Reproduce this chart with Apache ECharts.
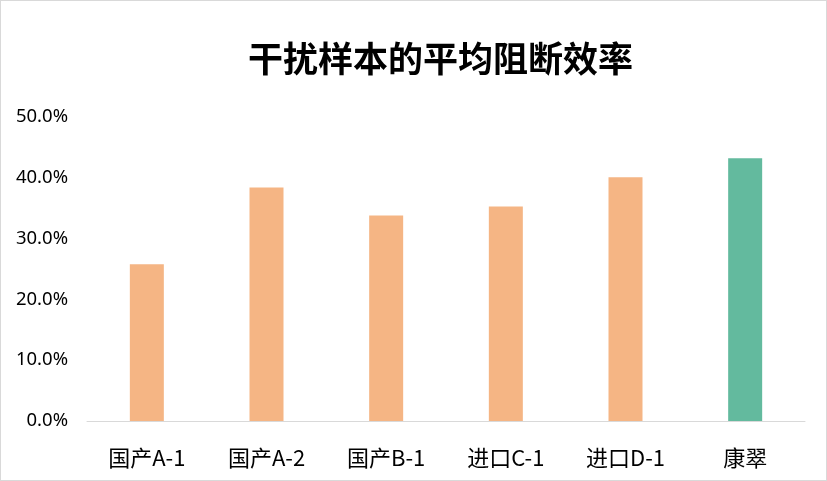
<!DOCTYPE html>
<html>
<head>
<meta charset="utf-8">
<script src="https://cdn.jsdelivr.net/npm/echarts@6/dist/echarts.min.js"></script>
<style>
html,body{margin:0;padding:0;background:#fff;}
#c{width:827px;height:481px;box-sizing:border-box;border:1px solid #d9d9d9;}
</style>
</head>
<body>
<div id="c"></div>
<script>
const titleText = '干扰样本的平均阻断效率';
const categories = ['国产A-1', '国产A-2', '国产B-1', '进口C-1', '进口D-1', '康翠'];
const values = [25.8, 38.4, 33.8, 35.3, 40.1, 43.2];
const highlightName = '康翠';
const yTicks = [0, 10, 20, 30, 40, 50];

const chart = echarts.init(document.getElementById('c'), null, {renderer: 'canvas'});
chart.setOption({
  backgroundColor: '#fff',
  animation: false,
  title: {
    text: titleText,
    left: 242,
    top: 35,
    textStyle: {fontFamily: 'Noto Sans CJK SC', fontSize: 35, fontWeight: 'bold', color: '#000'}
  },
  grid: {left: 86, right: 21, top: 116, bottom: 59, containLabel: false},
  xAxis: {
    type: 'category',
    data: categories,
    axisLine: {show: true, lineStyle: {color: '#d9d9d9', width: 1}},
    axisTick: {show: false},
    axisLabel: {margin: 26, fontFamily: 'Noto Sans CJK SC', fontSize: 22, color: '#000'}
  },
  yAxis: {
    type: 'value',
    min: yTicks[0],
    max: yTicks[yTicks.length - 1],
    interval: yTicks[1] - yTicks[0],
    splitLine: {show: false},
    axisLine: {show: false},
    axisTick: {show: false},
    axisLabel: {margin: 19, fontFamily: 'Noto Sans', fontSize: 18.5, color: '#000',
      formatter: v => v.toFixed(1) + '%'}
  },
  series: [{
    type: 'bar',
    barWidth: 34,
    data: categories.map((c, i) => ({
      value: values[i],
      itemStyle: {color: c === highlightName ? '#63BA9E' : '#F5B584'}
    }))
  }]
});
</script>
</body>
</html>
